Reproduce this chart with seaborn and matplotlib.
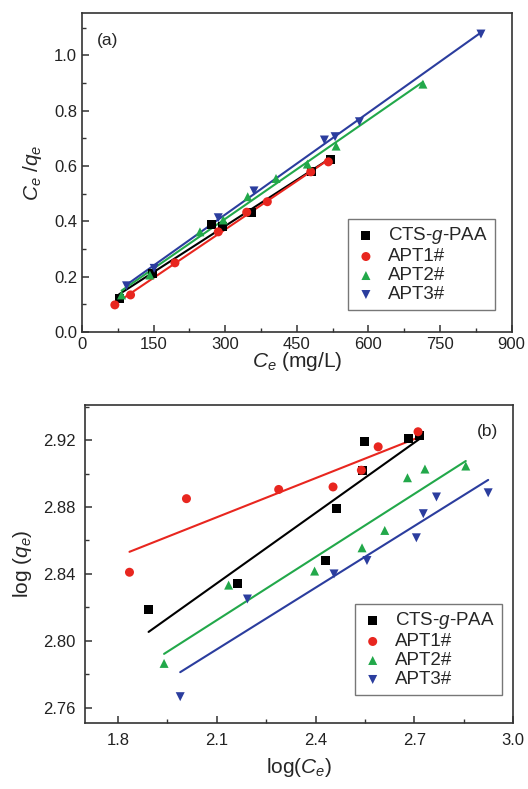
import numpy as np
import pandas as pd
import matplotlib
matplotlib.use('Agg')
import matplotlib.pyplot as plt
from matplotlib.ticker import MultipleLocator
import seaborn as sns

sns.set_style('ticks')
plt.rcParams['font.family'] = ['Liberation Sans', 'DejaVu Sans']
plt.rcParams['mathtext.fontset'] = 'custom'
plt.rcParams['mathtext.rm'] = 'Liberation Sans'
plt.rcParams['mathtext.it'] = 'Liberation Sans:italic'

names = ['CTS-$g$-PAA', 'APT1#', 'APT2#', 'APT3#']
colors = ['#000000', '#e8261f', '#22a84a', '#2b3d9e']
markers = ['s', 'o', '^', 'v']

# (a) Ce vs Ce/qe
ce_a = [
    [77.6, 147.7, 271.4, 293.7, 355.4, 481.2, 519.6],
    [68.6, 101.5, 194.5, 285.3, 344.9, 388.1, 479.1, 516.0],
    [82.7, 142.0, 246.9, 295.8, 347.0, 406.3, 472.0, 532.2, 714.1],
    [93.1, 151.0, 285.3, 360.2, 507.7, 530.1, 581.1, 835.7],
]
ceqe_a = [
    [0.122, 0.212, 0.387, 0.381, 0.431, 0.579, 0.624],
    [0.098, 0.134, 0.250, 0.362, 0.433, 0.471, 0.579, 0.615],
    [0.134, 0.206, 0.362, 0.405, 0.489, 0.555, 0.607, 0.672, 0.896],
    [0.167, 0.230, 0.413, 0.510, 0.694, 0.706, 0.760, 1.077],
]

# (b) log(Ce) vs log(qe)
logce_b = [
    [1.893, 2.163, 2.431, 2.465, 2.541, 2.549, 2.681, 2.716],
    [1.835, 2.008, 2.288, 2.453, 2.539, 2.590, 2.711],
    [1.940, 2.136, 2.397, 2.541, 2.610, 2.679, 2.732, 2.856],
    [1.989, 2.193, 2.456, 2.556, 2.706, 2.727, 2.767, 2.924],
]
logqe_b = [
    [2.819, 2.834, 2.848, 2.879, 2.902, 2.919, 2.921, 2.923],
    [2.841, 2.885, 2.8905, 2.892, 2.902, 2.916, 2.925],
    [2.7865, 2.8333, 2.8417, 2.8556, 2.866, 2.8975, 2.9027, 2.9045],
    [2.7666, 2.825, 2.840, 2.848, 2.8616, 2.876, 2.886, 2.8885],
]

fig = plt.figure(figsize=(5.28, 7.89), dpi=100)
ax1 = fig.add_axes([0.1555, 0.5792, 0.8135, 0.4043])
ax2 = fig.add_axes([0.161, 0.0833, 0.811, 0.4034])


def draw(ax, xs, ys):
    for i in range(4):
        df = pd.DataFrame({'x': xs[i], 'y': ys[i]})
        sns.regplot(data=df, x='x', y='y', ax=ax, scatter=False, ci=None,
                    color=colors[i], line_kws={'lw': 1.5, 'zorder': 2})
        sns.scatterplot(data=df, x='x', y='y', ax=ax, marker=markers[i],
                        color=colors[i], s=42, edgecolor='none',
                        label=names[i], zorder=3)


draw(ax1, ce_a, ceqe_a)
draw(ax2, logce_b, logqe_b)

ax1.set_xlim(0, 900)
ax1.set_ylim(0, 1.153)
ax1.xaxis.set_major_locator(MultipleLocator(150))
ax1.xaxis.set_minor_locator(MultipleLocator(75))
ax1.yaxis.set_major_locator(MultipleLocator(0.2))
ax1.yaxis.set_minor_locator(MultipleLocator(0.1))
ax1.set_xlabel('$C_e$ (mg/L)', fontsize=15, labelpad=-1)
ax1.set_ylabel(r'$C_e\ /q_e$', fontsize=15, labelpad=7)
ax1.text(0.06, 0.915, '(a)', transform=ax1.transAxes, fontsize=12.5,
         ha='center', va='center')

ax2.set_xlim(1.7, 3.0)
ax2.set_ylim(2.7507, 2.941)
ax2.xaxis.set_major_locator(MultipleLocator(0.3))
ax2.xaxis.set_minor_locator(MultipleLocator(0.15))
ax2.yaxis.set_major_locator(MultipleLocator(0.04))
ax2.yaxis.set_minor_locator(MultipleLocator(0.02))
ax2.xaxis.set_major_formatter(matplotlib.ticker.FormatStrFormatter('%.1f'))
ax2.yaxis.set_major_formatter(matplotlib.ticker.FormatStrFormatter('%.2f'))
ax2.set_xlabel('log($C_e$)', fontsize=15, labelpad=6)
ax2.set_ylabel('log ($q_e$)', fontsize=15, labelpad=6)
ax2.text(0.941, 0.916, '(b)', transform=ax2.transAxes, fontsize=12.5,
         ha='center', va='center')

for ax, anchor in [(ax1, (0.961, 0.069)), (ax2, (0.973, 0.089))]:
    for sp in ax.spines.values():
        sp.set_color('#333333')
        sp.set_linewidth(1.2)
    ax.tick_params(which='both', direction='in', colors='#333333',
                   labelcolor='#222222', labelsize=12)
    ax.tick_params(which='major', length=5, width=1.1)
    ax.tick_params(which='minor', length=3, width=1.0)
    leg = ax.legend(loc='lower right', bbox_to_anchor=anchor, fontsize=13.5,
                    frameon=True, fancybox=False, edgecolor='#555555',
                    handletextpad=0.6, borderpad=0.35, labelspacing=0.1,
                    handlelength=1.2, borderaxespad=0)
    leg.get_frame().set_linewidth(1.0)

ax2.tick_params(axis='both', which='major', pad=7)

fig.savefig('out.png', dpi=100)
